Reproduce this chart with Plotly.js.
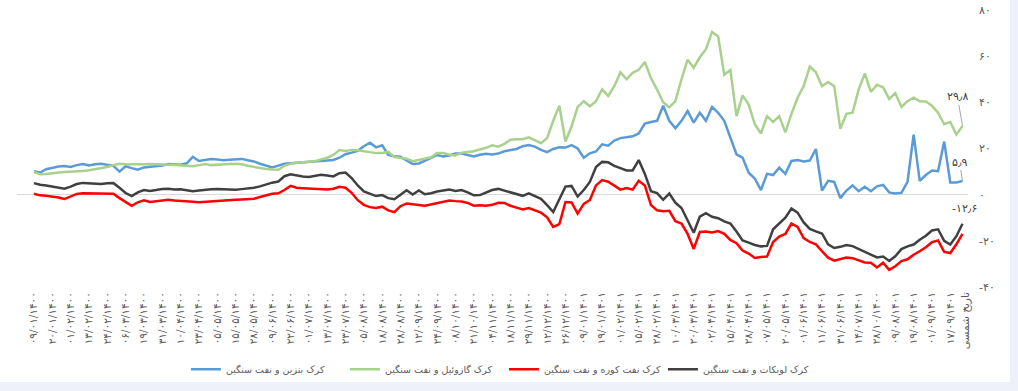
<!DOCTYPE html>
<html><head><meta charset="utf-8">
<script src="https://cdn.plot.ly/plotly-3.0.1.min.js"></script>
<style>
html,body{margin:0;padding:0;background:#eef0fa;overflow:hidden;}
#chart{width:1010px;height:382px;background:#fff;}
</style></head><body><div id="chart"></div>
<script>
// Category tick labels (one label every 3 data points)
const dateLabels = ["۰۹/۰۱/۱۴۰۰","۲۰/۰۱/۱۴۰۰","۰۱/۰۲/۱۴۰۰","۱۳/۰۲/۱۴۰۰","۲۴/۰۲/۱۴۰۰","۰۶/۰۳/۱۴۰۰","۱۹/۰۳/۱۴۰۰","۳۱/۰۳/۱۴۰۰","۱۰/۰۴/۱۴۰۰","۲۳/۰۴/۱۴۰۰","۰۵/۰۵/۱۴۰۰","۱۵/۰۵/۱۴۰۰","۲۸/۰۵/۱۴۰۰","۰۹/۰۶/۱۴۰۰","۲۲/۰۶/۱۴۰۰","۰۱/۰۷/۱۴۰۰","۱۳/۰۷/۱۴۰۰","۲۳/۰۷/۱۴۰۰","۰۵/۰۸/۱۴۰۰","۱۸/۰۸/۱۴۰۰","۲۸/۰۸/۱۴۰۰","۱۲/۰۹/۱۴۰۰","۲۴/۰۹/۱۴۰۰","۰۸/۱۰/۱۴۰۰","۲۱/۱۰/۱۴۰۰","۰۴/۱۱/۱۴۰۰","۱۸/۱۱/۱۴۰۰","۲۹/۱۱/۱۴۰۰","۱۲/۱۲/۱۴۰۰","۲۶/۱۲/۱۴۰۰","۰۹/۰۱/۱۴۰۱","۱۹/۰۱/۱۴۰۱","۰۱/۰۲/۱۴۰۱","۱۵/۰۲/۱۴۰۱","۲۸/۰۲/۱۴۰۱","۱۰/۰۳/۱۴۰۱","۲۰/۰۳/۱۴۰۱","۰۲/۰۴/۱۴۰۱","۱۵/۰۴/۱۴۰۱","۲۸/۰۴/۱۴۰۱","۰۷/۰۵/۱۴۰۱","۲۰/۰۵/۱۴۰۱","۰۱/۰۶/۱۴۰۱","۱۱/۰۶/۱۴۰۱","۳۱/۰۶/۱۴۰۱","۱۴/۰۷/۱۴۰۱","۲۸/۱۰/۱۴۰۰","۰۹/۰۸/۱۴۰۱","۱۹/۰۸/۱۴۰۱","۰۱/۰۹/۱۴۰۱","۱۷/۰۹/۱۴۰۱"];
const pointsPerLabel = 3;

const seriesNames = ["کرک بنزین و نفت سنگین","کرک گازوئیل و نفت سنگین","کرک نفت کوره و نفت سنگین","کرک لوبکات و نفت سنگین"];

const benzin = [10.1,9.6,11.0,11.6,12.2,12.4,12.0,12.8,13.3,12.6,
13.2,13.4,13.0,12.5,10.0,12.3,11.5,10.8,11.8,12.0,
12.3,12.6,13.3,13.2,13.0,13.6,16.4,14.6,14.9,15.4,
15.2,14.9,15.1,15.4,15.5,14.9,14.4,13.4,12.6,11.8,
12.6,13.4,13.6,13.8,14.0,14.2,14.3,14.5,15.0,15.0,
16.0,17.5,18.2,19.0,21.0,22.5,20.5,21.4,17.2,16.6,
16.4,14.8,13.3,13.5,14.6,15.9,17.2,16.5,17.0,17.8,
17.8,17.2,16.6,17.3,17.7,17.4,17.8,18.8,19.2,19.8,
21.0,21.5,20.8,19.4,18.4,19.8,20.5,20.4,21.5,20.0,
16.0,17.9,18.7,21.8,21.2,23.4,24.5,24.8,25.3,26.5,
30.8,31.5,32.0,38.5,32.0,28.8,32.0,36.2,31.2,35.5,
32.0,38.0,35.5,32.0,25.0,17.5,16.0,9.5,7.0,2.0,
9.0,8.5,11.7,9.0,14.6,15.0,14.4,14.8,19.8,1.8,
6.0,5.5,-1.5,1.8,4.0,1.5,3.4,1.5,3.6,4.2,
1.0,0.5,0.8,5.6,26.0,6.0,8.5,10.5,10.2,23.0,
5.3,5.3,5.9];

const gasoil = [9.8,8.8,9.0,9.4,9.6,9.8,9.9,10.1,10.3,10.6,
11.0,11.6,12.0,12.8,13.4,13.2,13.1,13.3,13.2,13.3,
13.1,13.0,13.0,12.9,12.8,12.6,12.3,12.8,13.3,12.8,
13.0,13.4,13.3,13.4,13.2,12.5,12.0,11.6,11.1,10.9,
10.8,12.5,13.4,13.8,14.0,14.3,14.5,15.3,16.0,17.2,
19.3,18.9,19.4,19.2,18.8,18.3,18.0,18.1,18.6,16.3,
16.0,15.6,14.5,15.0,15.5,16.2,18.0,18.0,17.3,17.0,
18.2,18.5,18.8,19.6,20.3,21.4,20.8,22.0,23.8,24.0,
24.0,24.8,23.5,22.3,24.5,32.0,38.5,23.0,29.5,38.0,
40.5,38.3,40.5,45.6,42.8,47.0,53.0,50.0,52.8,54.1,
57.5,50.5,45.5,40.0,37.8,40.5,50.0,58.5,55.0,59.5,
63.0,70.5,68.5,52.0,54.0,34.0,43.0,39.0,30.5,26.5,
34.0,31.5,34.0,27.0,35.0,42.0,47.0,55.5,53.0,47.0,
48.8,47.0,28.5,35.0,35.5,45.5,52.5,44.5,47.6,46.5,
41.5,44.0,38.0,40.5,42.0,40.5,40.4,38.5,35.5,30.5,
31.5,26.0,29.8];

const fuelOil = [0.4,-0.3,-0.5,-0.8,-1.2,-1.9,-0.8,0.3,0.6,0.5,
0.7,0.4,0.5,0.4,-1.5,-3.2,-4.8,-3.3,-2.4,-3.2,
-2.8,-2.3,-2.2,-2.5,-2.6,-2.8,-3.1,-3.3,-3.1,-2.8,
-2.5,-2.3,-2.2,-2.2,-2.1,-2.0,-1.8,-1.0,-0.3,0.4,
0.6,2.0,3.8,3.0,2.8,2.6,2.5,2.4,2.2,2.6,
3.4,3.0,0.8,-2.4,-4.4,-5.4,-5.8,-5.2,-6.8,-7.6,
-5.0,-3.8,-4.0,-4.5,-4.8,-4.2,-3.6,-3.0,-2.5,-2.8,
-3.0,-3.6,-4.8,-4.6,-4.8,-4.4,-3.5,-3.6,-4.8,-5.6,
-6.4,-5.8,-6.8,-7.8,-9.8,-14.0,-12.8,-3.2,-3.4,-8.2,
-4.0,-2.3,4.0,6.3,5.6,3.8,2.2,2.9,2.2,6.0,
4.0,-4.5,-6.8,-7.2,-7.0,-11.5,-12.5,-17.0,-23.5,-16.2,
-16.0,-16.4,-15.8,-17.0,-19.6,-21.0,-24.2,-25.5,-27.4,-27.0,
-26.8,-20.5,-18.2,-17.0,-12.5,-14.0,-18.8,-20.5,-21.5,-24.5,
-27.3,-28.6,-27.8,-27.2,-27.5,-28.5,-29.4,-29.5,-31.5,-29.5,
-32.6,-31.0,-28.8,-28.0,-26.0,-24.5,-22.8,-20.6,-19.8,-24.8,
-25.3,-21.5,-17.0];

const lubcut = [5.0,4.3,4.0,3.6,3.2,2.6,3.5,4.6,5.1,4.9,
4.8,4.6,4.9,5.0,3.0,0.7,-0.6,1.0,2.0,1.6,
2.0,2.5,2.6,2.2,2.3,1.9,1.5,1.8,2.2,2.3,
2.5,2.4,2.2,2.1,2.4,2.6,3.0,3.6,4.5,5.2,
5.7,8.0,8.8,8.3,7.9,7.7,8.2,8.6,8.3,7.9,
9.3,9.6,7.2,4.0,1.4,0.3,-0.6,-0.2,-1.5,-2.0,
0.0,1.9,0.1,1.8,0.2,0.6,1.4,1.9,2.2,1.6,
2.0,1.0,-0.3,-0.2,0.8,2.0,2.5,1.8,1.2,0.4,
-0.5,0.6,-0.6,-1.8,-4.5,-7.5,-2.0,3.5,3.8,-0.8,
2.0,5.5,12.0,14.2,14.0,12.5,11.5,10.5,10.5,15.0,
9.0,1.5,0.7,-2.2,0.5,-3.5,-5.8,-11.5,-16.5,-9.5,
-8.0,-9.6,-10.2,-11.6,-12.5,-16.0,-19.8,-20.8,-21.8,-22.4,
-22.2,-15.0,-12.5,-10.0,-6.0,-7.8,-12.0,-14.8,-15.9,-16.8,
-21.5,-23.1,-22.6,-21.8,-22.3,-23.5,-25.0,-26.0,-27.2,-26.8,
-28.7,-26.7,-23.6,-22.4,-21.6,-19.5,-17.8,-15.5,-15.0,-20.0,
-21.6,-18.0,-12.6];

const yTickValues = [-40,-20,0,20,40,60,80];
const xAxisTitle = "تاریخ شمسی";

const colors = ["#5b9bd5","#a9d18e","#ff0000","#404040"];
const FONT = "Tahoma, 'DejaVu Sans', sans-serif";

function fa(v){
  return String(v).replace(/[0-9]/g, d => "۰۱۲۳۴۵۶۷۸۹"[+d]).replace(".", "٫");
}

const series = [benzin, gasoil, fuelOil, lubcut];
const xs = benzin.map((_, i) => i);
const traces = series.map((ys, k) => ({
  type: "scatter", mode: "lines", x: xs, y: ys, name: seriesNames[k],
  line: {color: colors[k], width: 2.5}, hoverinfo: "skip"
}));

const last = xs.length - 1;
const tickvals = dateLabels.map((_, i) => i * pointsPerLabel);

const layout = {
  width: 1010, height: 382,
  margin: {l: 17, r: 42, t: 10, b: 95, autoexpand: false},
  paper_bgcolor: "#ffffff", plot_bgcolor: "#ffffff",
  showlegend: true,
  font: {family: FONT, color: "#595959", size: 11},
  xaxis: {
    range: [-2.78, 152.9], showgrid: false, zeroline: false, showline: false,
    ticks: "", tickmode: "array", tickvals: tickvals, ticktext: dateLabels,
    tickangle: -90, tickfont: {family: FONT, size: 10.5, color: "#595959"},
    ticklabelstandoff: 2, fixedrange: true
  },
  yaxis: {
    side: "right", range: [-40, 80], showgrid: false, showline: false,
    zeroline: true, zerolinecolor: "#d9d9d9", zerolinewidth: 1,
    ticks: "", tickmode: "array", tickvals: yTickValues, ticktext: yTickValues.map(fa),
    tickfont: {family: FONT, size: 11, color: "#595959"},
    ticklabelstandoff: 10, fixedrange: true
  },
  legend: {
    orientation: "h", x: 0.512, xanchor: "center", y: -0.245, yanchor: "top",
    font: {family: FONT, size: 9.5, color: "#595959"},
    entrywidth: 114, entrywidthmode: "pixels"
  },
  annotations: [
    {xref: "x", yref: "y", x: last, y: gasoil[last], text: fa(gasoil[last]),
     showarrow: true, arrowhead: 0, arrowwidth: 1, arrowcolor: "#a6a6a6", ax: -5, ay: -29,
     font: {family: FONT, size: 11, color: "#404040"}},
    {xref: "x", yref: "y", x: last, y: benzin[last], text: fa(benzin[last]),
     showarrow: true, arrowhead: 0, arrowwidth: 1, arrowcolor: "#a6a6a6", ax: -3, ay: -19,
     font: {family: FONT, size: 11, color: "#404040"}},
    {xref: "x", yref: "y", x: last, y: lubcut[last], text: fa(lubcut[last]),
     showarrow: false, xshift: 2, yshift: 15,
     font: {family: FONT, size: 11, color: "#404040"}},
    {xref: "paper", yref: "paper", x: 0.9968, y: -0.12, text: xAxisTitle,
     showarrow: false, textangle: -90, xanchor: "center", yanchor: "middle",
     font: {family: FONT, size: 10.5, color: "#595959"}}
  ]
};

Plotly.newPlot("chart", traces, layout, {staticPlot: true, displayModeBar: false});
</script>
</body></html>
